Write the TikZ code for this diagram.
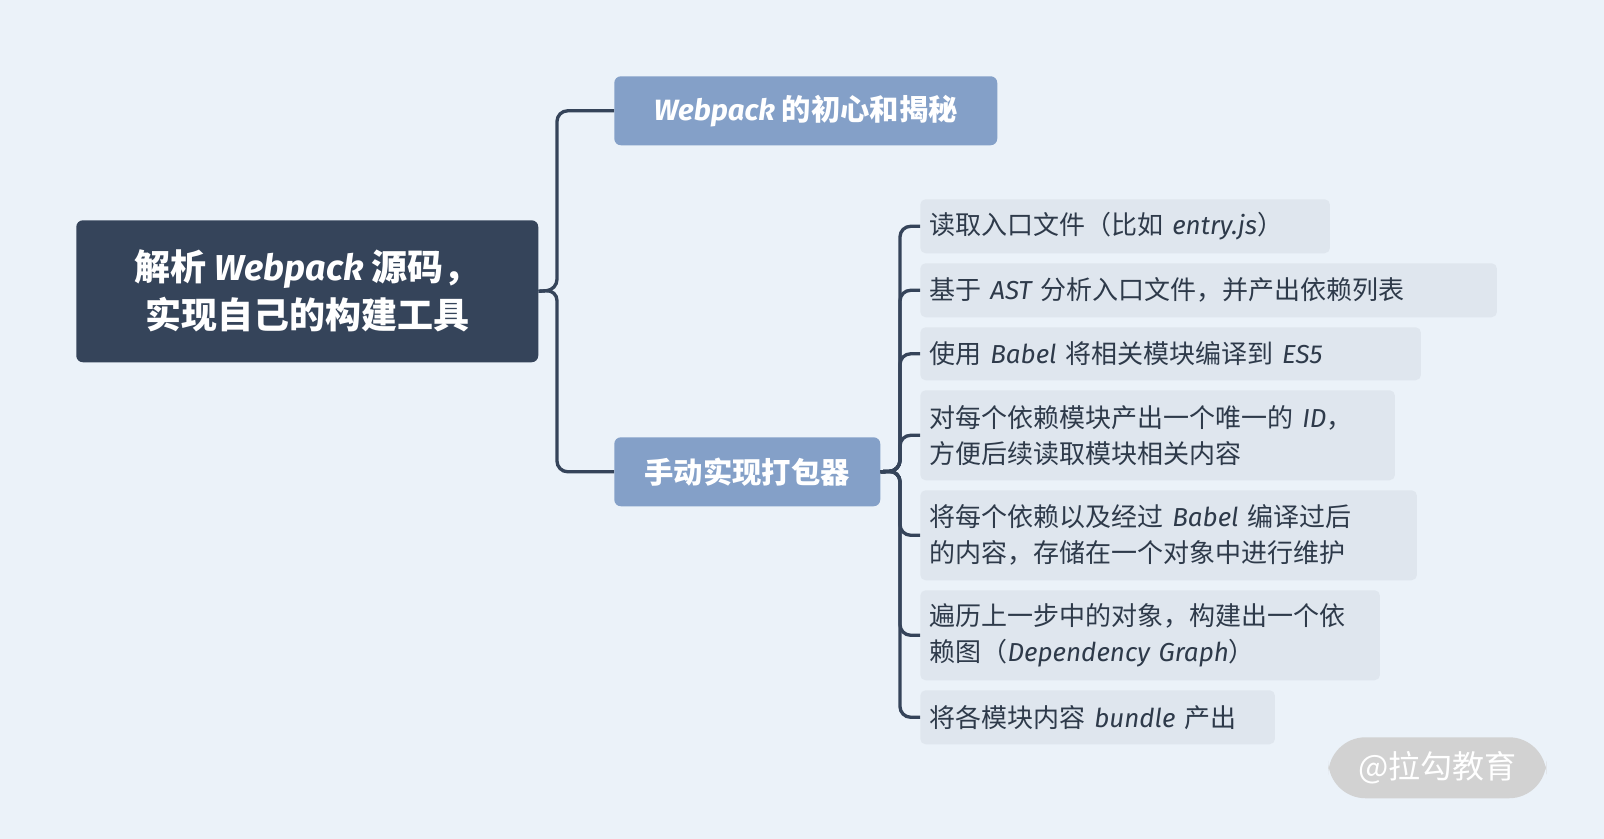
\documentclass[tikz,border=0pt]{standalone}
\usepackage{fontspec}
\setmainfont{Noto Sans CJK SC}
\newfontfamily\latinfont{Fira Sans}
\newcommand\lt[1]{{\latinfont\itshape #1}}
\usetikzlibrary{positioning}
\definecolor{bgcol}{HTML}{EBF2F9}
\definecolor{rootcol}{HTML}{35445A}
\definecolor{midcol}{HTML}{84A0C8}
\definecolor{leafcol}{HTML}{DFE6EE}
\definecolor{linecol}{HTML}{35445A}
\definecolor{txtcol}{HTML}{2E3A4A}
\tikzset{
  rootbox/.style={fill=rootcol, rounded corners=5pt, text=white, font=\fontsize{27}{36}\selectfont\bfseries, align=center, inner sep=0pt},
  midbox/.style={fill=midcol, rounded corners=5pt, text=white, font=\fontsize{22}{28}\selectfont\bfseries, inner sep=0pt, anchor=north west},
  leafbox/.style={fill=leafcol, rounded corners=4pt, text=txtcol, font=\fontsize{19.5}{27}\selectfont, align=left, inner sep=0pt, inner xsep=7pt, anchor=north west},
  conn/.style={draw=linecol, line width=2.5pt, rounded corners=8pt},
}
\begin{document}
\begin{tikzpicture}[x=0.75pt,y=-0.75pt]
  \fill[bgcol] (0,0) rectangle (1604,839);
  \useasboundingbox (0,0) rectangle (1604,839);

  % root and main branches
  \node[rootbox, minimum width=462*0.75pt, minimum height=142*0.75pt, anchor=north west] (root) at (76,220) {解析 \lt{Webpack} 源码，\\实现自己的构建工具};
  \node[midbox, minimum width=383*0.75pt, minimum height=69*0.75pt] (core) at (614,76) {\lt{Webpack} 的初心和揭秘};
  \node[midbox, minimum width=266*0.75pt, minimum height=69*0.75pt] (hand) at (614,437) {手动实现打包器};

  % leaves
  \node[leafbox, minimum width=405*0.75pt, minimum height=54*0.75pt, text width=391*0.75pt] (l1) at (920,199) {读取入口文件（比如 \lt{entry.js}）};
  \node[leafbox, minimum width=572*0.75pt, minimum height=54*0.75pt, text width=558*0.75pt] (l2) at (920,263) {基于 \lt{AST} 分析入口文件，并产出依赖列表};
  \node[leafbox, minimum width=496*0.75pt, minimum height=53*0.75pt, text width=482*0.75pt] (l3) at (920,327) {使用 \lt{Babel} 将相关模块编译到 \lt{ES5}};
  \node[leafbox, minimum width=470*0.75pt, minimum height=90*0.75pt, text width=456*0.75pt] (l4) at (920,390) {对每个依赖模块产出一个唯一的 \lt{ID}，\\方便后续读取模块相关内容};
  \node[leafbox, minimum width=492*0.75pt, minimum height=90*0.75pt, text width=478*0.75pt] (l5) at (920,490) {将每个依赖以及经过 \lt{Babel} 编译过后\\的内容，存储在一个对象中进行维护};
  \node[leafbox, minimum width=455*0.75pt, minimum height=90*0.75pt, text width=441*0.75pt] (l6) at (920,590) {遍历上一步中的对象，构建出一个依\\赖图（\lt{Dependency Graph}）};
  \node[leafbox, minimum width=350*0.75pt, minimum height=54*0.75pt, text width=336*0.75pt] (l7) at (920,690) {将各模块内容 \lt{bundle} 产出};

  % connectors
  \coordinate (rootspine) at (557,290);
  \draw[conn] (root.east) -- (rootspine) |- (core.west);
  \draw[conn] (root.east) -- (rootspine) |- (hand.west);
  \coordinate (handspine) at (900,471);
  \foreach \n in {l1,l2,l3,l4,l5,l6,l7}
    \draw[conn] (hand.east) -- (handspine) |- (\n.west);

  % watermark
  \node[fill=gray!35, text=white, rounded corners=28pt, minimum width=218*0.75pt, minimum height=61*0.75pt, inner sep=0pt, font=\fontsize{24}{30}\selectfont, anchor=north west] (mark) at (1328,737) {@拉勾教育};
\end{tikzpicture}
\end{document}
